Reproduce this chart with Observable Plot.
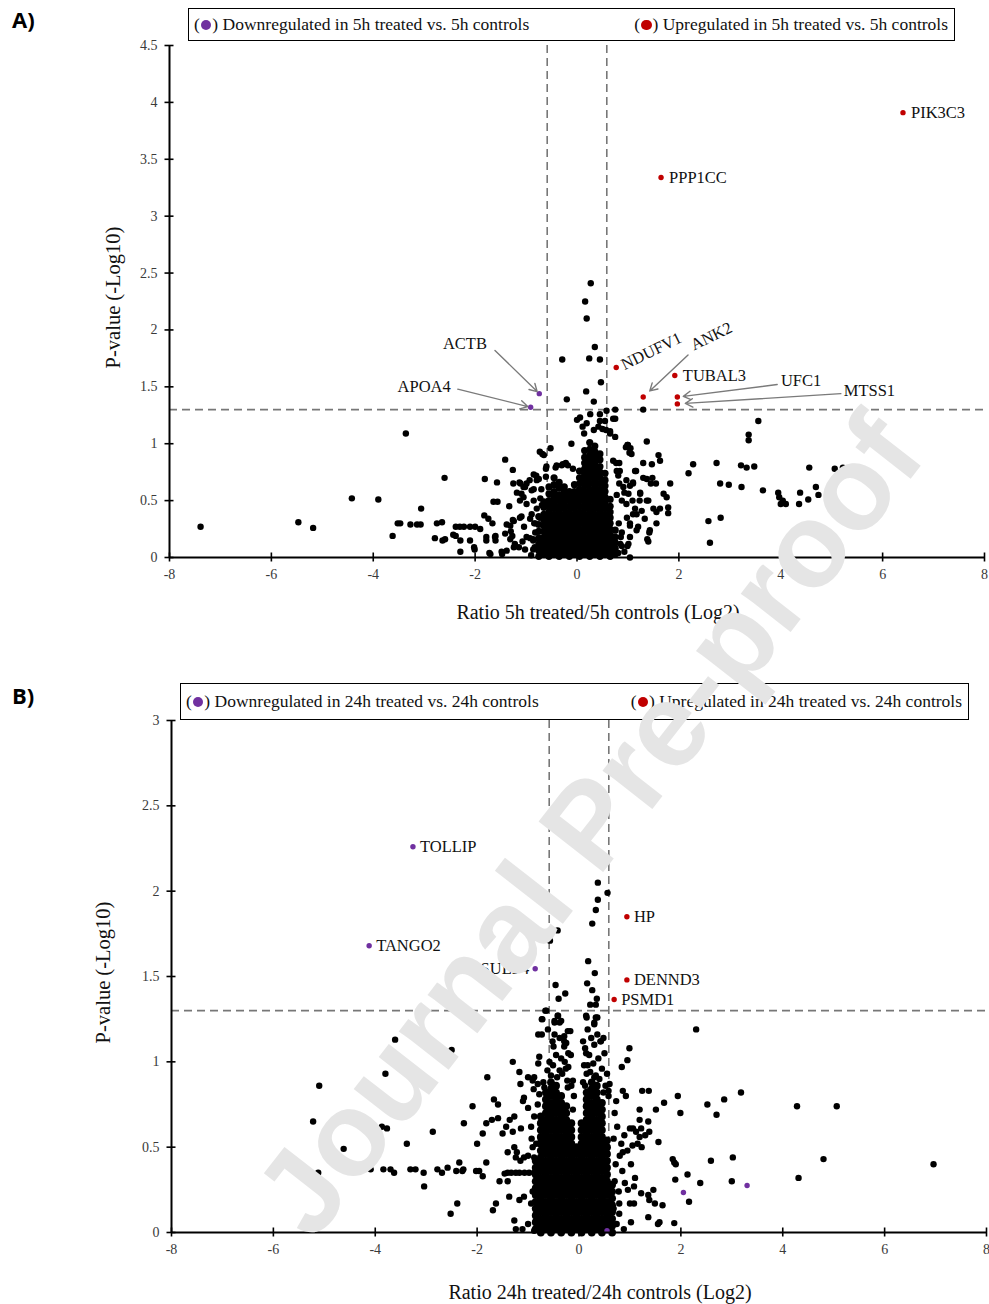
<!DOCTYPE html>
<html><head><meta charset="utf-8">
<script src="https://cdn.jsdelivr.net/npm/d3@7"></script>
<script src="https://cdn.jsdelivr.net/npm/@observablehq/plot@0.6"></script>
<style>
body{margin:0;background:#fff;}
#page{position:relative;width:989px;height:1304px;overflow:hidden;font-family:"Liberation Serif","Times New Roman",serif;background:#fff;}
.chart{position:absolute;left:0;}
.panel{position:absolute;left:12px;font:bold 22px "Open Sans","Liberation Sans",sans-serif;color:#000;}
.legend{position:absolute;border:1.5px solid #000;box-sizing:border-box;display:flex;justify-content:space-between;align-items:center;padding:0 6px 0 5px;font-size:17.5px;background:#fff;color:#111;}
.sw{display:inline-block;width:10.5px;height:10.5px;border-radius:50%;margin:0 1px;vertical-align:0px;}
.wm{position:absolute;left:588px;top:824px;transform:translate(-50%,-50%) rotate(-52deg);font:bold 119px "Liberation Sans",Arial,sans-serif;color:#e5e5e5;white-space:nowrap;line-height:1;pointer-events:none;}
</style></head>
<body>
<div id="page">
  <div id="chartA" class="chart" style="top:0"></div>
  <div id="chartB" class="chart" style="top:680px"></div>
  <div class="panel" style="top:4px">A)</div>
  <div class="panel" style="top:680px">B)</div>
  <div class="legend" style="left:188px;top:8px;width:767px;height:33px">
    <span>(<i class="sw" style="background:#7030A0"></i>) Downregulated in 5h treated vs. 5h controls</span>
    <span>(<i class="sw" style="background:#C00000"></i>) Upregulated in 5h treated vs. 5h controls</span>
  </div>
  <div class="legend" style="left:180px;top:683px;width:789px;height:37px">
    <span>(<i class="sw" style="background:#7030A0"></i>) Downregulated in 24h treated vs. 24h controls</span>
    <span>(<i class="sw" style="background:#C00000"></i>) Upregulated in 24h treated vs. 24h controls</span>
  </div>
  <div class="wm">Journal Pre-proof</div>
</div>
<script>
// ---------- axes / thresholds ----------
const xTicks = [-8, -6, -4, -2, 0, 2, 4, 6, 8];
const yTicksA = [0, 0.5, 1, 1.5, 2, 2.5, 3, 3.5, 4, 4.5];
const yTicksB = [0, 0.5, 1, 1.5, 2, 2.5, 3];
const pThreshold = 1.3;
const fcThreshold = 0.585;
const xLabelA = "Ratio 5h treated/5h controls (Log2)";
const xLabelB = "Ratio 24h treated/24h controls (Log2)";
const yLabel = "P-value (-Log10)";

// ---------- Panel A: labelled proteins ----------
const upGenesA = ["PIK3C3", "PPP1CC", "NDUFV1", "ANK2", "TUBAL3", "UFC1", "MTSS1"];
const upRatioA = [6.40, 1.65, 0.77, 1.30, 1.92, 1.97, 1.97];
const upPvalA  = [3.91, 3.34, 1.67, 1.41, 1.60, 1.41, 1.35];
const downGenesA = ["ACTB", "APOA4"];
const downRatioA = [-0.74, -0.91];
const downPvalA  = [1.44, 1.32];

// ---------- Panel A: other proteins (log2 ratio, -log10 p) ----------
const cloudA = [
 [0.27,2.41],[0.16,2.25],[0.19,2.10],[0.35,1.85],[0.24,1.75],[0.45,1.74],[-0.29,1.74],[0.47,1.54],[0.18,1.46],[-0.20,1.39],[0.33,1.37],[0.75,1.30],[1.30,1.30],
 [3.56,1.20],[3.37,1.08],[3.37,1.03],[2.28,0.82],[2.19,0.74],[2.74,0.83],[3.22,0.81],[3.33,0.79],[3.48,0.80],[2.81,0.65],[2.98,0.64],[3.23,0.62],[3.65,0.59],
 [4.56,0.79],[5.06,0.78],[5.22,0.79],[3.95,0.57],[3.97,0.53],[4.04,0.50],[4.10,0.47],[4.00,0.47],[4.38,0.57],[4.36,0.47],[4.54,0.51],[4.69,0.62],[4.74,0.55],
 [2.58,0.32],[2.82,0.35],[2.61,0.13],
 [-7.39,0.27],[-5.47,0.31],[-5.18,0.26],[-4.42,0.52],[-3.90,0.51],[-3.36,1.09],[-3.06,0.43],[-2.60,0.70],[-3.62,0.19],[-3.52,0.30],[-3.47,0.30],
 [-3.27,0.29],[-3.14,0.29],[-3.07,0.29],[-2.75,0.30],[-2.65,0.31],[-2.79,0.17],[-2.64,0.15],[-2.59,0.16],[-2.43,0.20],[-2.38,0.19],[-2.38,0.27],
 [-2.30,0.27],[-2.22,0.27],[-2.10,0.27],[-2.00,0.27],[-1.90,0.25],[-2.29,0.15],[-2.29,0.05],[-2.10,0.15],[-2.02,0.09],[-1.81,0.69],[-1.57,0.66],
 [-1.41,0.86],[-1.26,0.77],[-1.64,0.49],[-1.56,0.49],[-1.82,0.37],[-1.74,0.34],[-1.66,0.30],[-1.33,0.45],[-1.09,0.36],[-1.24,0.32],[-1.31,0.28],
 [-1.30,0.23],[-1.27,0.19],[-1.31,0.16],[-1.78,0.15],[-1.60,0.15],[-1.60,0.19],[-1.72,0.04],[-1.47,0.03],[-1.38,0.06],[-1.24,0.09],[-1.14,0.09],
 [-1.07,0.14],[-0.92,0.34],[-0.84,0.30],[-0.92,0.17],[-0.86,0.16],[-0.83,0.09],[-1.11,0.65],[-1.02,0.62],[-0.93,0.68],[-1.09,0.56],[-0.80,0.72],
 [-0.75,0.69],[-0.85,0.60],[-0.73,0.93],[-0.68,0.91],[-0.52,0.96],[-0.60,0.80],[-0.42,0.79],[-0.30,0.81],[-0.18,0.81],[-0.08,0.78],[-0.11,1.00],[0.00,1.21],
 [-1.25,0.65],[-1.13,0.66],[-1.05,0.62],[-0.99,0.65],[-0.85,0.73],[-0.79,0.68],[-0.89,0.59],[-0.65,0.90],[-0.28,0.82],[-0.40,0.81],[-0.22,0.83],[-0.61,0.78],[-0.61,0.71],
 [0.06,1.23],[0.11,1.15],[0.19,1.18],[0.14,1.09],[0.33,1.12],[0.42,1.15],[0.26,1.26],[0.45,1.26],[0.45,1.20],[0.57,1.12],[0.65,1.09],[0.75,1.22],[0.77,0.83],
 [0.99,0.99],[0.96,0.97],[1.03,0.92],[1.37,1.02],[1.14,0.76],[1.30,0.83],[1.47,0.82],[0.84,0.76],[0.83,0.65],[0.93,0.57],[1.10,0.65],[0.97,0.47],[1.10,0.38],
 [1.04,0.30],[1.17,0.24],[1.01,0.12],[1.37,0.69],[1.24,0.57],[1.37,0.50],[1.27,0.41],[1.33,0.34],[1.50,0.43],[1.56,0.30],[1.42,0.22],
 [-1.41,0.21],[-1.38,0.29],[-1.26,0.33],[-1.12,0.35],[-1.04,0.27],[-0.82,0.30],[-0.73,0.35],[-1.78,0.18],[-1.61,0.18],[-1.70,0.03],[-2.01,0.07],[-1.48,0.05],
 [-1.22,0.12],[-1.02,0.07],[-0.99,0.18],[-0.86,0.15],[-0.86,0.07],[-0.73,0.10],[-1.12,0.50],[-0.99,0.47],[-0.85,0.50],[-0.79,0.43],[-0.89,0.38],[-0.69,0.46],
 [-1.18,0.57],[-1.05,0.53],
 [0.58,1.29],[0.55,1.20],[0.65,1.11],[0.50,1.13],[0.71,1.22],[0.75,1.06],[0.83,0.83],[0.71,0.85],[0.78,0.76],[0.81,0.72],[0.91,0.62],[0.97,0.68],[0.88,0.50],
 [1.01,0.56],[1.09,0.50],[1.24,0.56],[1.23,0.50],[1.14,0.43],[0.98,0.35],[1.04,0.28],[0.88,0.22],[1.04,0.18],[0.85,0.12],[0.72,0.08],[0.99,0.10],[0.81,0.04],[1.04,0.00],
 [1.00,0.99],[1.05,0.96],[1.07,0.91],[1.60,0.90],[1.63,0.85],[1.16,0.76],[1.30,0.70],[1.48,0.70],[1.45,0.65],[1.55,0.65],[1.83,0.65],[1.10,0.66],[1.04,0.63],
 [1.70,0.56],[1.76,0.53],[1.40,0.50],[1.63,0.43],[1.56,0.40],[1.79,0.44],[1.79,0.39],[1.17,0.38],[1.20,0.27],[1.43,0.24],[1.38,0.16],[1.40,0.14],[0.93,0.05],[0.88,0.10],
 [-0.90,0.02],[-0.82,0.22],[0.82,0.30],[0.86,0.18],[0.78,0.55],[-0.70,0.60],[-0.72,0.52]
];
// dense centre of panel A, by column: [log2 ratio, [-log10 p ...]]
const coreA = [
 [-0.75,[0.01,0.06,0.12,0.17,0.23,0.29,0.36]],
 [-0.65,[0.03,0.08,0.13,0.18,0.23,0.28,0.33,0.38,0.44,0.49]],
 [-0.55,[0.01,0.05,0.10,0.15,0.20,0.25,0.30,0.35,0.40,0.45,0.50,0.56,0.62]],
 [-0.45,[0.03,0.08,0.13,0.18,0.23,0.28,0.33,0.38,0.43,0.48,0.53,0.58,0.64,0.70]],
 [-0.35,[0.01,0.05,0.10,0.15,0.20,0.25,0.30,0.35,0.40,0.45,0.50,0.55,0.61,0.66]],
 [-0.25,[0.03,0.08,0.13,0.18,0.23,0.28,0.33,0.38,0.43,0.48,0.53,0.58,0.62]],
 [-0.15,[0.01,0.05,0.10,0.15,0.20,0.25,0.30,0.35,0.40,0.45,0.50,0.55,0.58]],
 [-0.05,[0.03,0.08,0.13,0.18,0.23,0.28,0.33,0.38,0.43,0.48,0.53,0.58,0.64]],
 [0.05,[0.01,0.05,0.10,0.15,0.20,0.25,0.30,0.35,0.40,0.45,0.50,0.55,0.60,0.65,0.70,0.76]],
 [0.15,[0.03,0.08,0.13,0.18,0.23,0.28,0.33,0.38,0.43,0.48,0.53,0.58,0.63,0.68,0.73,0.78,0.83,0.88,0.94]],
 [0.25,[0.01,0.05,0.10,0.15,0.20,0.25,0.30,0.35,0.40,0.45,0.50,0.55,0.60,0.65,0.70,0.75,0.80,0.85,0.90,0.95,1.01]],
 [0.35,[0.03,0.08,0.13,0.18,0.23,0.28,0.33,0.38,0.43,0.48,0.53,0.58,0.63,0.68,0.73,0.78,0.83,0.88,0.93,0.98]],
 [0.45,[0.01,0.05,0.10,0.15,0.20,0.25,0.30,0.35,0.40,0.45,0.50,0.55,0.60,0.65,0.70,0.75,0.80,0.86,0.91]],
 [0.55,[0.03,0.08,0.13,0.18,0.23,0.28,0.33,0.38,0.43,0.48,0.53,0.58,0.63,0.68,0.74]],
 [0.65,[0.01,0.05,0.10,0.15,0.20,0.25,0.30,0.35,0.40,0.45,0.51]],
 [0.75,[0.03,0.08,0.13,0.18,0.24]]
];

// ---------- Panel B: labelled proteins ----------
const upGenesB = ["HP", "DENND3", "PSMD1"];
const upRatioB = [0.94, 0.94, 0.69];
const upPvalB  = [1.85, 1.48, 1.365];
const downGenesB = ["TOLLIP", "TANGO2", "SULF4", "", "", ""];
const downRatioB = [-3.26, -4.12, -0.86, 2.05, 3.30, 0.55];
const downPvalB  = [2.26, 1.68, 1.545, 0.234, 0.275, 0.01];

// ---------- Panel B: other proteins ----------
const cloudB = [
 [0.37,2.05],[0.56,1.99],[0.37,1.95],[0.33,1.89],[0.26,1.81],[-0.42,1.77],[-0.57,1.71],[0.18,1.59],[0.31,1.52],[0.16,1.46],[-0.46,1.45],[0.26,1.42],
 [-0.27,1.40],[-0.40,1.37],[0.35,1.37],[0.22,1.335],[0.33,1.335],[-0.64,1.30],[-0.73,1.25],[-0.42,1.27],[-0.35,1.24],[-0.48,1.24],[0.15,1.26],[0.33,1.26],[0.30,1.22],
 [-0.72,1.25],[-0.80,1.16],[-0.73,1.16],[-0.61,1.19],[-0.48,1.23],[-0.38,1.23],[-0.41,1.27],[-0.66,1.30],[-0.48,1.16],[-0.38,1.14],[-0.29,1.15],[-0.25,1.11],
 [-0.17,1.18],[-0.50,1.09],[-0.45,1.04],[-0.29,1.09],[-0.21,1.05],[-0.51,0.98],[-0.38,0.95],[-0.43,0.91],[-0.21,0.97],[-0.23,0.89],[-0.78,1.03],[-0.80,0.99],
 [-1.00,0.91],[-0.91,0.89],[-0.89,0.84],[-0.81,0.87],[-1.17,0.94],[-1.15,0.87],[-1.30,1.00],[-1.10,0.77],[-1.08,0.79],
 [-0.68,0.85],[-0.55,0.92],[-0.62,0.95],[-0.33,0.93],[-0.15,0.86],[-0.10,0.80],[-0.12,0.72],[-0.70,0.88],[-0.58,1.00],[-0.28,1.00],[-0.35,1.02],[-0.52,1.12],
 [0.17,1.19],[0.36,1.16],[0.24,1.14],[0.08,1.12],[0.12,1.08],[0.30,1.10],[0.42,1.12],[0.50,1.05],[0.20,1.04],[0.38,1.02],[0.10,0.98],[0.28,0.99],[0.45,0.96],
 [0.55,0.93],[0.15,0.93],[0.33,0.92],[0.08,0.88],[0.22,0.94],[0.40,0.90],[0.52,0.86],[0.58,0.80],[0.12,0.86],[0.48,0.82],
 [0.14,1.27],[0.30,1.23],[0.36,1.26],[0.43,1.12],[0.48,1.14],[0.14,1.05],[0.17,0.98],[0.30,0.91],[0.27,0.86],[0.20,0.83],
 [-0.22,1.18],[-0.29,1.12],[-0.16,1.04],[-0.26,0.96],[-0.12,0.89],[-0.22,0.85],[0.60,0.87],[0.58,0.83],[0.73,0.77],[2.30,1.19],[-3.61,1.13],
 [-5.10,0.86],[-5.22,0.65],[-5.12,0.35],[-4.62,0.49],[-4.42,0.37],[-4.09,0.37],[-3.87,0.62],[-3.77,0.61],[-3.80,0.93],[-3.84,0.37],[-3.70,0.37],
 [-3.63,0.35],[-3.38,0.52],[-3.31,0.37],[-3.21,0.37],[-3.05,0.35],[-3.04,0.27],[-2.87,0.59],[-2.75,1.05],[-2.50,1.07],[-2.78,0.37],[-2.69,0.35],[-2.58,0.38],
 [-2.41,0.36],[-2.35,0.41],[-2.29,0.36],[-2.27,0.37],[-2.39,0.17],[-2.52,0.11],[-2.26,0.64],[-2.09,0.74],[-2.00,0.52],[-2.02,0.36],[-1.96,0.36],[-1.89,0.33],
 [-1.82,0.41],[-1.89,0.58],[-1.82,0.64],[-1.80,0.91],[-1.67,0.78],[-1.59,0.75],[-1.71,0.66],[-1.59,0.67],[-1.50,0.58],[-1.43,0.62],[-1.36,0.66],[-1.27,0.68],
 [-1.37,0.21],[-1.17,0.19],[-1.08,0.21],[-1.27,0.07],[-1.24,0.02],[-1.11,0.02],[-1.00,0.05],[-1.63,0.17],[-1.69,0.13],[-1.40,0.30],[-1.56,0.30],[-1.46,0.345],
 [-1.40,0.35],[-1.33,0.35],[-1.24,0.35],[-1.17,0.35],[-1.07,0.35],[-0.98,0.35],[-0.88,0.35],[-1.24,0.44],[-1.15,0.42],[-1.08,0.44],[-1.00,0.45],[-0.88,0.44],
 [-0.91,0.50],[-0.93,0.55],[-0.84,0.52],[-0.75,0.54],[-1.22,0.47],[-1.27,0.50],[-1.14,0.61],[-0.94,0.62],[-0.63,0.66],[-0.57,0.68],[-0.91,0.24],[-0.94,0.17],
 [-0.84,0.11],[-0.78,0.07],[-0.88,0.01],[-1.40,0.47],[-1.30,0.59],[-0.88,0.68],[-0.81,0.75],[-0.78,0.81],[-1.00,0.73],[-0.88,0.91],
 [3.18,0.82],[2.85,0.78],[2.52,0.75],[2.70,0.69],[1.94,0.80],[1.99,0.70],[4.28,0.74],[5.06,0.74],[4.80,0.43],[4.31,0.32],[6.96,0.40],[3.02,0.44],[2.59,0.42],
 [3.00,0.30],[1.84,0.43],[1.87,0.41],[1.90,0.40],[1.89,0.31],[2.13,0.34],[2.38,0.29],[2.16,0.18],[1.87,0.055],[1.64,0.16],[1.46,0.25],[1.36,0.22],[1.38,0.19],
 [1.49,0.17],[1.36,0.09],[1.58,0.06],[1.55,0.05],[1.22,0.23],[1.02,0.06],[1.10,0.32],[1.08,0.27],[1.02,0.40],[1.00,0.17],[1.08,0.17],[0.90,0.29],[0.79,0.17],
 [0.79,0.11],[0.96,0.25],[0.84,0.97],[0.95,1.01],[0.99,1.08],[1.24,0.83],[1.37,0.83],[0.86,0.83],[0.92,0.80],[1.67,0.76],[1.51,0.72],[1.19,0.72],[1.19,0.66],
 [1.36,0.65],[1.00,0.61],[1.06,0.61],[1.12,0.59],[1.22,0.61],[1.19,0.56],[1.38,0.59],[1.30,0.57],[1.56,0.53],[1.15,0.52],[1.23,0.50],[1.05,0.51],[0.89,0.57],
 [0.83,0.52],[0.86,0.47],[0.95,0.48],[0.70,0.70],[0.75,0.62],[0.68,0.55],[0.80,0.45],[0.72,0.40],[0.85,0.36],[0.70,0.30],[0.78,0.24],[0.68,0.14],[0.74,0.05],[0.88,0.02]
];
// dense centre of panel B, by column
const coreB = [
 [-0.85,[0.02,0.06,0.10,0.14,0.18,0.22,0.26,0.30,0.34,0.38,0.42]],
 [-0.75,[0.00,0.04,0.08,0.12,0.16,0.20,0.24,0.28,0.32,0.36,0.40,0.44,0.48,0.52,0.56,0.60,0.64,0.68]],
 [-0.65,[0.02,0.06,0.10,0.14,0.18,0.22,0.26,0.30,0.34,0.38,0.42,0.46,0.50,0.54,0.58,0.62,0.66,0.70,0.74,0.78,0.82]],
 [-0.55,[0.00,0.04,0.08,0.12,0.16,0.20,0.24,0.28,0.32,0.36,0.40,0.44,0.48,0.52,0.56,0.60,0.64,0.68,0.72,0.76,0.80,0.84,0.88]],
 [-0.45,[0.02,0.06,0.10,0.14,0.18,0.22,0.26,0.30,0.34,0.38,0.42,0.46,0.50,0.54,0.58,0.62,0.66,0.70,0.74,0.78,0.82,0.86]],
 [-0.35,[0.00,0.04,0.08,0.12,0.16,0.20,0.24,0.28,0.32,0.36,0.40,0.44,0.48,0.52,0.56,0.60,0.64,0.68,0.72,0.76,0.80]],
 [-0.25,[0.02,0.06,0.10,0.14,0.18,0.22,0.26,0.30,0.34,0.38,0.42,0.46,0.50,0.54,0.58,0.62,0.66,0.70,0.74]],
 [-0.15,[0.00,0.04,0.08,0.12,0.16,0.20,0.24,0.28,0.32,0.36,0.40,0.44,0.48,0.52,0.56,0.60,0.64]],
 [-0.05,[0.02,0.06,0.10,0.14,0.18,0.22,0.26,0.30,0.34,0.38,0.42,0.46,0.50]],
 [0.05,[0.00,0.04,0.08,0.12,0.16,0.20,0.24,0.28,0.32,0.36,0.40,0.44,0.48,0.52,0.56,0.60,0.64]],
 [0.15,[0.02,0.06,0.10,0.14,0.18,0.22,0.26,0.30,0.34,0.38,0.42,0.46,0.50,0.54,0.58,0.62,0.66,0.70,0.74,0.78,0.82]],
 [0.25,[0.00,0.04,0.08,0.12,0.16,0.20,0.24,0.28,0.32,0.36,0.40,0.44,0.48,0.52,0.56,0.60,0.64,0.68,0.72,0.76,0.80,0.84,0.88]],
 [0.35,[0.02,0.06,0.10,0.14,0.18,0.22,0.26,0.30,0.34,0.38,0.42,0.46,0.50,0.54,0.58,0.62,0.66,0.70,0.74,0.78,0.82,0.86]],
 [0.45,[0.00,0.04,0.08,0.12,0.16,0.20,0.24,0.28,0.32,0.36,0.40,0.44,0.48,0.52,0.56,0.60,0.64,0.68,0.72,0.76]],
 [0.55,[0.02,0.06,0.10,0.14,0.18,0.22,0.26,0.30,0.34,0.38,0.42,0.46,0.50,0.54]],
 [0.65,[0.00,0.04,0.08,0.12,0.16,0.20,0.24,0.28]]
];

// ---------- annotation layout (label anchor, arrow start) ----------
const arrowLabelsA = [
 {gene: "ACTB",  lx: -2.20, ly: 1.88, ax: -1.61, ay: 1.82, inset: 3},
 {gene: "APOA4", lx: -3.00, ly: 1.50, ax: -2.34, ay: 1.48, inset: 3},
 {gene: "UFC1",  lx: 4.40,  ly: 1.555, ax: 3.93, ay: 1.52, inset: 6},
 {gene: "MTSS1", lx: 5.74,  ly: 1.47, ax: 5.18, ay: 1.44, inset: 8}
];
const rotLabelsA = [{gene: "ANK2", lx: 2.25, ly: 1.86, ax: 2.18, ay: 1.78, inset: 9}];

// ---------- build tables ----------
const table = (genes, ratios, pvals) => genes.map((g, i) => ({gene: g, ratio: ratios[i], p: pvals[i]}));
const flatCore = core => core.flatMap(([x, ys]) => ys.map(y => [x, y]));
const upA = table(upGenesA, upRatioA, upPvalA);
const downA = table(downGenesA, downRatioA, downPvalA);
const upB = table(upGenesB, upRatioB, upPvalB);
const downB = table(downGenesB, downRatioB, downPvalB);
const allA = new Map([...upA, ...downA].map(d => [d.gene, d]));

const serif = "Liberation Serif";
const dashStyle = {stroke: "#777", strokeWidth: 1.6, strokeDasharray: "8,5"};

function baseMarks(o) {
  return [
    Plot.ruleY([pThreshold], dashStyle),
    Plot.ruleX([-fcThreshold, fcThreshold], dashStyle),
    Plot.dot(o.core, {x: d => d[0], y: d => d[1], r: o.coreR, fill: "#000"}),
    Plot.dot(o.points, {x: d => d[0], y: d => d[1], r: 3.2, fill: "#000"}),
    Plot.dot(o.down, {x: "ratio", y: "p", r: 2.7, fill: "#7030A0"}),
    Plot.dot(o.up, {x: "ratio", y: "p", r: 2.7, fill: "#C00000"}),
    Plot.ruleY([0], {stroke: "#000", strokeWidth: 2}),
    Plot.ruleX([-8], {stroke: "#000", strokeWidth: 2}),
    Plot.axisX(xTicks, {tickSize: 9, dy: -4.5, tickFormat: () => "", strokeWidth: 1.6, label: null}),
    Plot.axisY(o.yTicks, {tickSize: 9, dx: 4.5, tickFormat: () => "", strokeWidth: 1.6, label: null}),
    Plot.axisX(xTicks, {tickSize: 0, tickPadding: 12, tickFormat: d => String(d), fontSize: 14, fill: "#3a3a3a", label: null}),
    Plot.axisY(o.yTicks, {tickSize: 0, tickPadding: 12, tickFormat: d => String(d), fontSize: 14, fill: "#3a3a3a", label: null}),
    Plot.text([o.xLabel], {text: d => d, frameAnchor: "bottom", dy: o.xLabelDy, dx: 21, fontSize: 20, fill: "#111", lineAnchor: "middle", textAnchor: "middle"}),
    Plot.text([yLabel], {text: d => d, frameAnchor: "left", rotate: -90, dx: o.yLabelDx, dy: -4, fontSize: 20.5, fill: "#111", lineAnchor: "middle", textAnchor: "middle"})
  ];
}

const labelFont = {fontSize: 16.5, fill: "#111", fontFamily: serif};
const arrowStyle = {stroke: "#7a7a7a", strokeWidth: 1.4, headLength: 9};

const chartA = Plot.plot({
  width: 989, height: 640, marginTop: 45, marginBottom: 83, marginLeft: 169, marginRight: 5,
  x: {domain: [-8, 8]}, y: {domain: [0, 4.5]},
  style: {fontFamily: serif, background: "transparent", overflow: "visible"},
  marks: [
    ...baseMarks({points: cloudA, core: flatCore(coreA), coreR: 3.6, up: upA, down: downA, yTicks: yTicksA, xLabel: xLabelA, xLabelDy: 55, yLabelDx: -56}),
    Plot.text(upA.filter(d => ["PIK3C3", "PPP1CC", "TUBAL3"].includes(d.gene)), {x: "ratio", y: "p", text: "gene", dx: 8, textAnchor: "start", ...labelFont}),
    Plot.text(upA.filter(d => d.gene === "NDUFV1"), {x: "ratio", y: "p", text: "gene", dx: 6, dy: -2, rotate: -26, textAnchor: "start", ...labelFont}),
    Plot.text(arrowLabelsA, {x: "lx", y: "ly", text: "gene", textAnchor: "middle", ...labelFont}),
    Plot.text(rotLabelsA, {x: "lx", y: "ly", text: "gene", rotate: -26, textAnchor: "start", ...labelFont}),
    ...[...arrowLabelsA, ...rotLabelsA].map(a => Plot.arrow([a], {x1: "ax", y1: "ay", x2: d => allA.get(d.gene).ratio, y2: d => allA.get(d.gene).p, insetEnd: a.inset, ...arrowStyle}))
  ]
});
document.getElementById("chartA").appendChild(chartA);

const chartB = Plot.plot({
  width: 989, height: 624, marginTop: 40, marginBottom: 72, marginLeft: 171, marginRight: 3,
  x: {domain: [-8, 8]}, y: {domain: [0, 3]},
  style: {fontFamily: serif, background: "transparent", overflow: "visible"},
  marks: [
    ...baseMarks({points: cloudB, core: flatCore(coreB), coreR: 3.9, up: upB, down: downB, yTicks: yTicksB, xLabel: xLabelB, xLabelDy: 60, yLabelDx: -68}),
    Plot.text(upB, {x: "ratio", y: "p", text: "gene", dx: 7, textAnchor: "start", ...labelFont}),
    Plot.text(downB.filter(d => d.gene && d.gene !== "SULF4"), {x: "ratio", y: "p", text: "gene", dx: 7, textAnchor: "start", ...labelFont}),
    Plot.text(downB.filter(d => d.gene === "SULF4"), {x: "ratio", y: "p", text: "gene", dx: -6, textAnchor: "end", ...labelFont})
  ]
});
document.getElementById("chartB").appendChild(chartB);
</script>
</body></html>
